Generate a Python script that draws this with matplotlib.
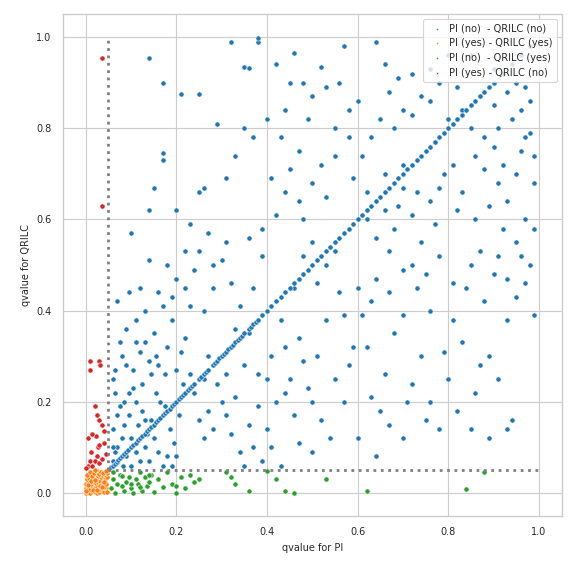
import matplotlib
matplotlib.use("Agg")
import matplotlib.pyplot as plt
import seaborn as sns

# diagonal points (qvalue PI == qvalue QRILC)
diag_vals = [0.052,0.056,0.06,0.064,0.068,0.072,0.076,0.08,0.085,0.09,0.094,0.1,0.105,0.11,0.115,0.12,
             0.125,0.13,0.135,0.14,0.145,0.15,0.155,0.16,0.165,0.17,0.175,0.18,0.185,0.19,0.195,0.2,
             0.205,0.21,0.215,0.22,0.225,0.23,0.235,0.24,0.25,0.255,0.26,0.265,0.27,0.28,0.285,0.29,
             0.295,0.3,0.305,0.31,0.315,0.32,0.325,0.33,0.335,0.34,0.345,0.35,0.36,0.365,0.37,0.375,
             0.38,0.39,0.4,0.41,0.42,0.43,0.44,0.45,0.46,0.47,0.48,0.49,0.5,0.51,0.52,0.53,0.54,0.55,
             0.56,0.57,0.58,0.59,0.6,0.61,0.62,0.63,0.64,0.65,0.66,0.67,0.68,0.69,0.7,0.71,0.72,0.73,
             0.74,0.75,0.76,0.77,0.78,0.79,0.8,0.81,0.82,0.83,0.84,0.85,0.86,0.87,0.88,0.89,0.9,0.92,
             0.94,0.96,0.98]

blue_pts = [
 (0.14,0.955),(0.17,0.9),(0.17,0.745),(0.17,0.73),(0.21,0.875),(0.25,0.875),(0.32,0.99),(0.38,0.99),
 (0.38,0.998),(0.35,0.935),(0.36,0.932),(0.42,0.94),(0.46,0.965),(0.52,0.935),(0.53,0.89),(0.57,0.98),
 (0.64,0.99),(0.66,0.94),(0.69,0.91),(0.72,0.92),(0.76,0.93),(0.8,0.96),(0.85,0.96),(0.9,0.93),
 (0.95,0.9),(0.93,0.88),(0.97,0.89),(0.9,0.85),(0.85,0.8),(0.98,0.79),(0.96,0.75),(0.99,0.68),
 (0.88,0.71),(0.77,0.77),(0.7,0.72),(0.63,0.78),(0.58,0.78),(0.55,0.8),(0.52,0.72),(0.47,0.75),
 (0.45,0.9),(0.44,0.84),(0.4,0.82),(0.37,0.78),(0.35,0.8),(0.33,0.74),(0.31,0.69),(0.26,0.67),
 (0.25,0.66),(0.29,0.81),(0.15,0.67),(0.14,0.62),(0.2,0.62),(0.23,0.59),(0.27,0.57),(0.31,0.55),
 (0.36,0.56),(0.39,0.58),(0.41,0.69),(0.44,0.66),(0.47,0.64),(0.5,0.68),(0.53,0.65),(0.59,0.69),
 (0.62,0.66),(0.66,0.7),(0.69,0.63),(0.73,0.66),(0.76,0.64),(0.79,0.7),(0.82,0.62),(0.86,0.6),
 (0.89,0.63),(0.92,0.58),(0.95,0.55),(0.97,0.6),(0.98,0.5),(0.99,0.39),(0.97,0.46),(0.95,0.43),
 (0.93,0.38),(0.9,0.48),(0.87,0.53),(0.84,0.45),(0.81,0.38),(0.79,0.31),(0.76,0.4),(0.73,0.45),
 (0.7,0.49),(0.67,0.53),(0.64,0.47),(0.61,0.39),(0.59,0.32),(0.56,0.44),(0.53,0.5),(0.5,0.55),
 (0.48,0.52),(0.46,0.45),(0.43,0.38),(0.41,0.3),(0.38,0.26),(0.36,0.35),(0.34,0.41),(0.32,0.46),
 (0.3,0.51),(0.28,0.45),(0.26,0.4),(0.24,0.49),(0.22,0.53),(0.2,0.47),(0.18,0.5),(0.16,0.44),
 (0.14,0.51),(0.12,0.45),(0.1,0.57),(0.11,0.38),(0.09,0.36),(0.07,0.42),(0.08,0.3),(0.06,0.25),
 (0.065,0.22),(0.075,0.19),(0.085,0.2),(0.095,0.17),(0.105,0.23),(0.115,0.15),(0.125,0.18),
 (0.135,0.13),(0.145,0.16),(0.155,0.22),(0.165,0.2),(0.175,0.26),(0.185,0.14),(0.195,0.11),
 (0.06,0.14),(0.07,0.1),(0.08,0.12),(0.09,0.08),(0.1,0.06),(0.11,0.09),(0.12,0.07),(0.13,0.1),
 (0.14,0.07),(0.15,0.12),(0.16,0.09),(0.17,0.06),(0.18,0.08),(0.19,0.06),(0.2,0.08),(0.06,0.07),
 (0.065,0.09),(0.085,0.15),(0.1,0.12),(0.12,0.31),(0.13,0.33),(0.15,0.35),(0.16,0.28),(0.18,0.32),
 (0.21,0.31),(0.22,0.34),(0.23,0.26),(0.24,0.22),(0.25,0.16),(0.26,0.12),(0.27,0.18),(0.28,0.14),
 (0.29,0.24),(0.3,0.2),(0.31,0.17),(0.32,0.13),(0.33,0.21),(0.34,0.09),(0.35,0.06),(0.36,0.15),
 (0.37,0.1),(0.38,0.19),(0.39,0.07),(0.4,0.14),(0.41,0.1),(0.42,0.2),(0.43,0.06),(0.44,0.32),
 (0.45,0.25),(0.46,0.17),(0.47,0.11),(0.48,0.29),(0.49,0.23),(0.5,0.09),(0.51,0.3),(0.52,0.16),
 (0.53,0.38),(0.55,0.25),(0.57,0.2),(0.6,0.12),(0.62,0.32),(0.64,0.08),(0.65,0.18),(0.66,0.26),
 (0.68,0.35),(0.7,0.12),(0.72,0.24),(0.74,0.3),(0.75,0.16),(0.78,0.14),(0.8,0.25),(0.83,0.33),
 (0.85,0.14),(0.87,0.28),(0.89,0.12),(0.89,0.3),(0.93,0.14),(0.94,0.16),(0.9,0.76),(0.92,0.72),
 (0.94,0.82),(0.96,0.84),(0.98,0.86),(0.87,0.87),(0.83,0.84),(0.8,0.82),(0.76,0.86),(0.72,0.83),
 (0.68,0.8),(0.65,0.82),(0.61,0.74),(0.58,0.84),(0.55,0.74),(0.49,0.82),(0.45,0.71),(0.42,0.61),
 (0.39,0.52),(0.37,0.45),(0.33,0.36),(0.27,0.3),(0.23,0.41),(0.19,0.38),(0.17,0.41),(0.095,0.44),
 (0.075,0.33),(0.065,0.27),(0.105,0.27),(0.125,0.24),(0.145,0.26),(0.155,0.3),(0.175,0.19),
 (0.205,0.17),(0.215,0.24),(0.095,0.22),(0.11,0.2),(0.13,0.16),(0.07,0.17),(0.082,0.06),(0.06,0.1),
 (0.62,0.6),(0.64,0.56),(0.66,0.62),(0.68,0.58),(0.7,0.67),(0.72,0.61),(0.74,0.55),(0.77,0.59),
 (0.78,0.67),(0.81,0.72),(0.83,0.66),(0.86,0.74),(0.88,0.78),(0.91,0.68),(0.93,0.64),(0.95,0.7),
 (0.97,0.78),(0.99,0.74),(0.91,0.8),(0.82,0.89),(0.78,0.9),(0.74,0.87),(0.7,0.84),(0.67,0.88),
 (0.6,0.86),(0.56,0.9),(0.5,0.87),(0.48,0.9),(0.43,0.78),(0.48,0.6),(0.51,0.46),(0.55,0.53),
 (0.57,0.39),(0.6,0.45),(0.63,0.42),(0.67,0.44),(0.7,0.39),(0.72,0.5),(0.75,0.48),(0.78,0.52),
 (0.81,0.46),(0.85,0.5),(0.88,0.42),(0.91,0.52),(0.93,0.47),(0.96,0.52),(0.99,0.58),(0.25,0.53),
 (0.28,0.5),(0.22,0.45),(0.19,0.43),(0.13,0.4),(0.11,0.33),(0.09,0.28),(0.14,0.29),(0.2,0.27),
 (0.26,0.25),(0.31,0.26),(0.35,0.28),(0.4,0.25),(0.44,0.22),(0.47,0.34),(0.5,0.2),(0.54,0.12),
 (0.58,0.28),(0.63,0.21),(0.67,0.15),(0.71,0.2),(0.76,0.2),(0.82,0.18),(0.86,0.22),(0.91,0.25),
]

orange_x = [0.0,0.005,0.01,0.015,0.02,0.025,0.03,0.035,0.04,0.045,0.0,0.005,0.01,0.015,0.02,0.025,0.03,
            0.035,0.04,0.045,0.0,0.008,0.012,0.018,0.022,0.028,0.032,0.038,0.042,0.048,0.002,0.007,0.013,
            0.017,0.023,0.027,0.033,0.037,0.043,0.047,0.003,0.009,0.014,0.019,0.024,0.029,0.034,0.039,
            0.044,0.001,0.006,0.011,0.016,0.021,0.026,0.031,0.036,0.041,0.046,0.02]
orange_y = [0.0,0.002,0.0,0.004,0.001,0.0,0.003,0.006,0.002,0.01,0.01,0.012,0.008,0.015,0.011,0.014,0.009,
            0.018,0.013,0.02,0.02,0.022,0.019,0.025,0.021,0.024,0.027,0.023,0.03,0.035,0.03,0.033,0.028,
            0.036,0.031,0.038,0.034,0.04,0.042,0.044,0.04,0.045,0.038,0.043,0.047,0.041,0.046,0.044,
            0.048,0.005,0.017,0.026,0.006,0.029,0.007,0.016,0.012,0.025,0.003,0.05]

green_x = [0.055,0.06,0.065,0.07,0.075,0.08,0.085,0.09,0.095,0.1,0.105,0.11,0.115,0.12,0.125,0.13,0.135,
           0.14,0.145,0.15,0.16,0.17,0.18,0.19,0.2,0.21,0.22,0.23,0.24,0.25,0.31,0.32,0.33,0.36,0.4,0.42,
           0.44,0.46,0.53,0.62,0.84,0.88,0.06,0.08,0.1,0.12,0.14,0.2]
green_y = [0.01,0.03,0.0,0.02,0.04,0.015,0.005,0.025,0.035,0.01,0.0,0.03,0.02,0.045,0.005,0.035,0.015,
           0.025,0.04,0.002,0.03,0.012,0.045,0.02,0.0,0.035,0.01,0.04,0.025,0.03,0.045,0.035,0.02,0.005,
           0.048,0.03,0.005,0.0,0.03,0.005,0.008,0.046,0.045,0.038,0.02,0.012,0.04,0.015]

red_x = [0.035,0.035,0.01,0.01,0.03,0.032,0.005,0.02,0.025,0.03,0.035,0.022,0.015,0.028,0.01,0.04,0.005,
         0.02,0.03,0.012,0.025,0.035,0.045,0.0,0.015,0.03,0.04]
red_y = [0.955,0.63,0.29,0.27,0.29,0.28,0.12,0.19,0.17,0.16,0.15,0.125,0.13,0.1,0.07,0.11,0.06,
         0.07,0.065,0.09,0.08,0.075,0.085,0.055,0.06,0.105,0.135]

blue_x = [p[0] for p in blue_pts] + diag_vals
blue_y = [p[1] for p in blue_pts] + diag_vals

sns.set_theme(style="whitegrid", context="paper")
fig, ax = plt.subplots(figsize=(5.73, 5.73), dpi=100)
kw = dict(s=14, edgecolor="white", linewidth=0.4)
ax.scatter(blue_x, blue_y, color="#1f77b4", label="PI (no)  - QRILC (no)", **kw)
ax.scatter(orange_x, orange_y, color="#ff7f0e", label="PI (yes) - QRILC (yes)", **kw)
ax.scatter(green_x, green_y, color="#2ca02c", label="PI (no)  - QRILC (yes)", **kw)
ax.scatter(red_x, red_y, color="#d62728", label="PI (yes) - QRILC (no)", **kw)
ax.plot([0.05, 0.05], [0.05, 1.0], ls=":", color="grey", lw=2)
ax.plot([0.05, 1.0], [0.05, 0.05], ls=":", color="grey", lw=2)
ax.set_xlim(-0.05, 1.05)
ax.set_ylim(-0.05, 1.05)
ax.set_xticks([0, 0.2, 0.4, 0.6, 0.8, 1.0])
ax.set_yticks([0, 0.2, 0.4, 0.6, 0.8, 1.0])
ax.set_xlabel("qvalue for PI", fontsize=7)
ax.set_ylabel("qvalue for QRILC", fontsize=7)
ax.tick_params(labelsize=7)
ax.legend(loc="upper right", fontsize=7, markerscale=0.4, handletextpad=0.3)
fig.subplots_adjust(left=0.11, right=0.98, top=0.975, bottom=0.1)
fig.savefig("out.png")
